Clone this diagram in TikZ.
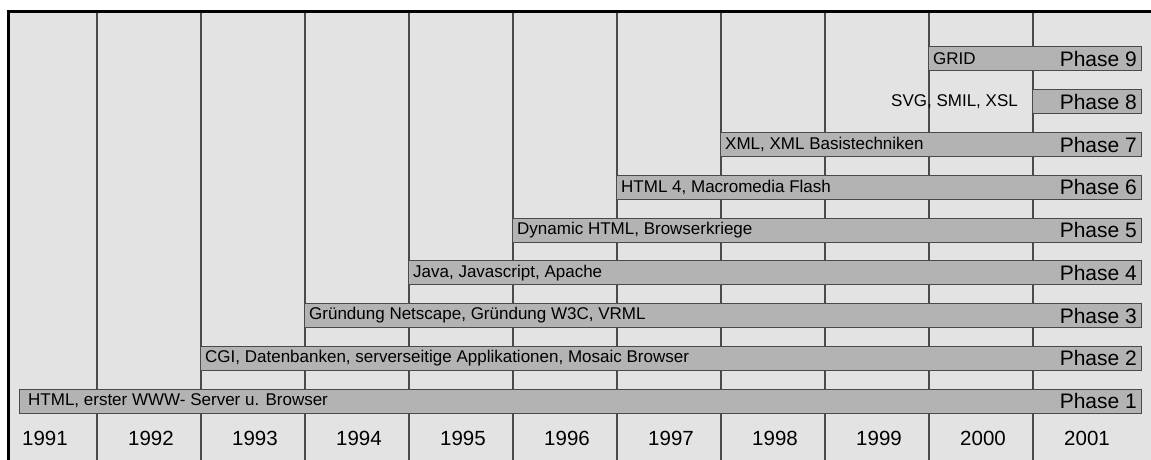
\documentclass[tikz,border=0pt]{standalone}
\usepackage{fontspec}
\setmainfont{Liberation Sans}
\usetikzlibrary{positioning}
\definecolor{bgGray}{HTML}{E3E3E3}
\definecolor{barGray}{HTML}{B3B3B3}
\definecolor{lineGray}{HTML}{4A4A4A}

\begin{document}
\begin{tikzpicture}[x=1pt,y=-1pt,inner sep=0pt,
	bar/.style={draw=lineGray,fill=barGray,line width=1pt,minimum height=24pt,anchor=west},
	txt/.style={font=\fontsize{17}{19}\selectfont},
	phase/.style={font=\fontsize{21}{24}\selectfont},
	year/.style={font=\fontsize{20.5}{23}\selectfont},
	sep/.style={draw=lineGray,line width=1.3pt}]
	\useasboundingbox (0,0) rectangle (1151,460);
	\coordinate (TL) at (8.5,11.5);
	\coordinate (BL) at (8.5,460);
	\coordinate (TR) at (1151,11.5);
	\coordinate (BR) at (1151,460);

	\fill [bgGray] (TL) rectangle (BR);

	\draw [sep] (97,11.5) -- (97,460);
	\draw [sep] (201,11.5) -- (201,460);
	\draw [sep] (305,11.5) -- (305,460);
	\draw [sep] (409,11.5) -- (409,460);
	\draw [sep] (513,11.5) -- (513,460);
	\draw [sep] (617,11.5) -- (617,460);
	\draw [sep] (721,11.5) -- (721,460);
	\draw [sep] (825,11.5) -- (825,460);
	\draw [sep] (929,11.5) -- (929,460);
	\draw [sep] (1033,11.5) -- (1033,460);

	\draw [line width=3pt] (BL) -- (TL) -- (TR);

	\node [bar,minimum width=1122pt] (p1) at (19,401) {};
	\node [bar,minimum width=941pt] (p2) at (200,358.25) {};
	\node [bar,minimum width=837pt] (p3) at (304,315.5) {};
	\node [bar,minimum width=733pt] (p4) at (408,272.75) {};
	\node [bar,minimum width=629pt] (p5) at (512,230) {};
	\node [bar,minimum width=525pt] (p6) at (616,187.25) {};
	\node [bar,minimum width=421pt] (p7) at (720,144.5) {};
	\node [bar,minimum width=109pt] (p8) at (1032,101.75) {};
	\node [bar,minimum width=213pt] (p9) at (928,59) {};

	\node [txt,right=9pt of p1.west] (t1) {HTML, erster WWW- Server u. Browser};
	\node [txt,right=5pt of p2.west] (t2) {CGI, Datenbanken, serverseitige Applikationen, Mosaic Browser};
	\node [txt,right=5pt of p3.west] (t3) {Gründung Netscape, Gründung W3C, VRML};
	\node [txt,right=5pt of p4.west] (t4) {Java, Javascript, Apache};
	\node [txt,right=5pt of p5.west] (t5) {Dynamic HTML, Browserkriege};
	\node [txt,right=5pt of p6.west] (t6) {HTML 4, Macromedia Flash};
	\node [txt,right=5pt of p7.west] (t7) {XML, XML Basistechniken};
	\node [txt,left=14pt of p8.west] (t8) {SVG, SMIL, XSL};
	\node [txt,right=5pt of p9.west] (t9) {GRID};

	\node [phase,left=5pt of p1.east] (n1) {Phase 1};
	\node [phase,left=5pt of p2.east] (n2) {Phase 2};
	\node [phase,left=5pt of p3.east] (n3) {Phase 3};
	\node [phase,left=5pt of p4.east] (n4) {Phase 4};
	\node [phase,left=5pt of p5.east] (n5) {Phase 5};
	\node [phase,left=5pt of p6.east] (n6) {Phase 6};
	\node [phase,left=5pt of p7.east] (n7) {Phase 7};
	\node [phase,left=5pt of p8.east] (n8) {Phase 8};
	\node [phase,left=5pt of p9.east] (n9) {Phase 9};

	\node [year] (y1991) at (45,438) {1991};
	\node [year] (y1992) at (151,438) {1992};
	\node [year] (y1993) at (255,438) {1993};
	\node [year] (y1994) at (359,438) {1994};
	\node [year] (y1995) at (463,438) {1995};
	\node [year] (y1996) at (567,438) {1996};
	\node [year] (y1997) at (671,438) {1997};
	\node [year] (y1998) at (775,438) {1998};
	\node [year] (y1999) at (879,438) {1999};
	\node [year] (y2000) at (983,438) {2000};
	\node [year] (y2001) at (1087,438) {2001};

\end{tikzpicture}
\end{document}
